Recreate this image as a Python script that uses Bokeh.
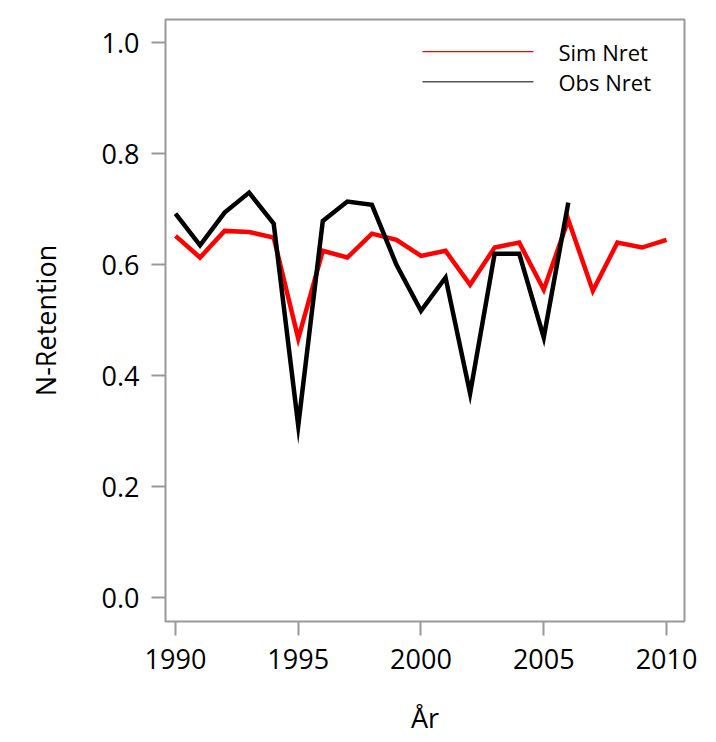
from bokeh.plotting import figure
from bokeh.models import Range1d, FixedTicker, Label, PrintfTickFormatter
from bokeh.embed import file_html
from bokeh.resources import INLINE

years_sim = list(range(1990, 2011))
sim_nret = [0.652, 0.613, 0.661, 0.659, 0.649, 0.467, 0.625, 0.613, 0.656, 0.645,
            0.616, 0.625, 0.564, 0.631, 0.640, 0.555, 0.681, 0.553, 0.640, 0.631, 0.645]
years_obs = list(range(1990, 2007))
obs_nret = [0.692, 0.635, 0.694, 0.730, 0.674, 0.310, 0.679, 0.714, 0.708, 0.600,
            0.517, 0.577, 0.368, 0.620, 0.620, 0.469, 0.712]
x_ticks = [1990, 1995, 2000, 2005, 2010]
y_ticks = [0.0, 0.2, 0.4, 0.6, 0.8, 1.0]
legend_labels = ["Sim Nret", "Obs Nret"]
legend_colors = ["#ff0000", "#555555"]

FONT = "Open Sans"
GRAY = "#999999"

p = figure(width=700, height=742, output_backend="svg", toolbar_location=None,
           x_range=Range1d(1989.593, 2010.733), y_range=Range1d(-0.043, 1.042),
           min_border_left=165, min_border_right=16, min_border_top=19, min_border_bottom=121)

p.grid.visible = False
p.outline_line_color = GRAY
p.outline_line_width = 2
p.background_fill_color = "white"
p.border_fill_color = "white"

for ax in (p.xaxis[0], p.yaxis[0]):
    ax.axis_line_color = None
    ax.major_tick_line_color = GRAY
    ax.major_tick_line_width = 2
    ax.major_tick_out = 14
    ax.major_tick_in = 0
    ax.minor_tick_line_color = None
    ax.major_label_text_font = FONT
    ax.major_label_text_font_size = "27px"
    ax.major_label_text_color = "black"
    ax.axis_label_text_font = FONT
    ax.axis_label_text_font_size = "27px"
    ax.axis_label_text_font_style = "normal"
    ax.axis_label_text_color = "black"

p.xaxis.ticker = FixedTicker(ticks=x_ticks)
p.yaxis.ticker = FixedTicker(ticks=y_ticks)
p.yaxis.formatter = PrintfTickFormatter(format="%.1f")
p.xaxis.axis_label = "År"
p.yaxis.axis_label = "N-Retention"
p.xaxis.major_label_standoff = 13
p.yaxis.major_label_standoff = 12
p.xaxis.axis_label_standoff = 27
p.yaxis.axis_label_standoff = 35

p.line(years_sim, sim_nret, line_color="#ff0000", line_width=4.5, line_join="miter")
p.line(years_obs, obs_nret, line_color="black", line_width=4.5, line_join="miter")

# legend (top-right, no box): key lines + labels
key_x0, key_x1, text_x = 2000.06, 2004.58, 2005.6
key_y = [0.984, 0.930]
key_w = [1.2, 1.5]
for lab, col, yy, lw in zip(legend_labels, legend_colors, key_y, key_w):
    p.segment(x0=[key_x0], y0=[yy], x1=[key_x1], y1=[yy], line_color=col, line_width=lw)
    p.add_layout(Label(x=text_x, y=yy, text=lab, text_font=FONT, text_font_size="22px",
                       text_color="black", text_baseline="middle", text_align="left"))

open("out.html", "w").write(file_html(p, INLINE))
